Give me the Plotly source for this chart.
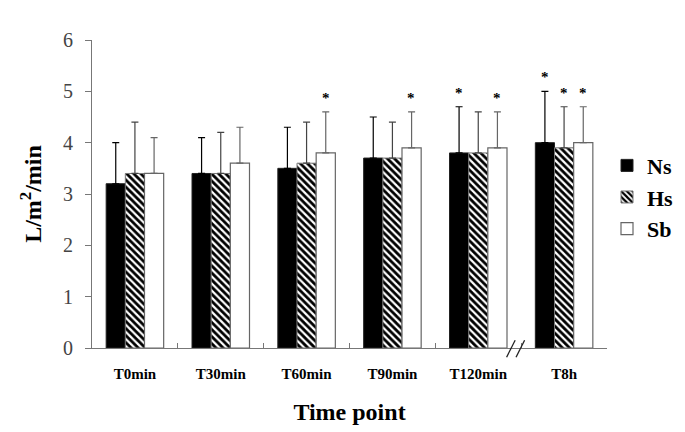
import plotly.graph_objects as go

categories = ["T0min", "T30min", "T60min", "T90min", "T120min", "T8h"]
series_names = ["Ns", "Hs", "Sb"]
ns_values = [3.2, 3.4, 3.5, 3.7, 3.8, 4.0]
hs_values = [3.4, 3.4, 3.6, 3.7, 3.8, 3.9]
sb_values = [3.4, 3.6, 3.8, 3.9, 3.9, 4.0]
ns_err = [0.8, 0.7, 0.8, 0.8, 0.9, 1.0]
hs_err = [1.0, 0.8, 0.8, 0.7, 0.8, 0.8]
sb_err = [0.7, 0.7, 0.8, 0.7, 0.7, 0.7]
ns_sig = [False, False, False, False, True, True]
hs_sig = [False, False, False, False, False, True]
sb_sig = [False, False, True, True, True, True]
y_ticks = [0, 1, 2, 3, 4, 5, 6]

SERIF = "Liberation Serif, Times New Roman, serif"

fig = go.Figure()
fig.add_trace(go.Bar(
    name="Ns", x=categories, y=ns_values,
    marker=dict(color="black", line=dict(color="#222", width=1)),
    error_y=dict(type="data", array=ns_err, symmetric=False, arrayminus=[0]*6,
                 color="black", thickness=1.2, width=3.5),
))
fig.add_trace(go.Bar(
    name="Hs", x=categories, y=hs_values,
    marker=dict(color="white", line=dict(color="#777", width=1),
                pattern=dict(shape="\\", fgcolor="black", bgcolor="white",
                             fgopacity=1, size=5, solidity=0.55)),
    error_y=dict(type="data", array=hs_err, symmetric=False, arrayminus=[0]*6,
                 color="#444", thickness=1.2, width=3.5),
))
fig.add_trace(go.Bar(
    name="Sb", x=categories, y=sb_values,
    marker=dict(color="white", line=dict(color="#666", width=1.2)),
    error_y=dict(type="data", array=sb_err, symmetric=False, arrayminus=[0]*6,
                 color="#666", thickness=1.2, width=3.5),
))

# significance stars
bar_px = 19
for k, (vals, errs, sig) in enumerate([(ns_values, ns_err, ns_sig),
                                        (hs_values, hs_err, hs_sig),
                                        (sb_values, sb_err, sb_sig)]):
    for c, v, e, s in zip(categories, vals, errs, sig):
        if s:
            fig.add_annotation(x=c, y=v + e, text="<b>*</b>", showarrow=False,
                               xshift=(k - 1) * bar_px, yshift=4, yanchor="bottom",
                               font=dict(family=SERIF, size=15, color="black"))

# axis break marks between T120min and T8h
for dx in (-0.05, 0.06):
    fig.add_shape(type="line", xref="x", yref="paper",
                  x0=4.38 + dx, x1=4.48 + dx, y0=-0.03, y1=0.025,
                  line=dict(color="#222", width=1.3))

fig.update_layout(
    width=685, height=432,
    margin=dict(l=92, r=78, t=40, b=84, autoexpand=False),
    paper_bgcolor="white", plot_bgcolor="white",
    barmode="group", bargap=0.33, bargroupgap=0,
    showlegend=True,
    legend=dict(x=1.0, y=0.49, xanchor="left", yanchor="middle",
                font=dict(family=SERIF, size=22, color="black", weight="bold"),
                tracegroupgap=8, itemwidth=30),
    xaxis=dict(
        automargin=False,
        showline=True, linecolor="#777", linewidth=1,
        ticks="inside", ticklen=5, tickcolor="#777", tickson="boundaries",
        tickfont=dict(family=SERIF, size=15, color="black", weight="bold"),
        ticklabelstandoff=12,
        title=dict(text="Time point", font=dict(family=SERIF, size=24, color="black", weight="bold"), standoff=22),
        showgrid=False,
    ),
    yaxis=dict(
        automargin=False,
        range=[0, 6], tickvals=y_ticks,
        showline=True, linecolor="#777", linewidth=1,
        ticks="outside", ticklen=6, tickcolor="#777",
        tickfont=dict(family=SERIF, size=20, color="#444"),
        ticklabelstandoff=8,
        title=dict(text="L/m<sup>2</sup>/min", font=dict(family=SERIF, size=24, color="black", weight="bold"), standoff=14),
        showgrid=False, zeroline=False,
    ),
)

fig.write_html("out.html", config={"displayModeBar": False},
               post_script="document.body.style.margin='0';")
